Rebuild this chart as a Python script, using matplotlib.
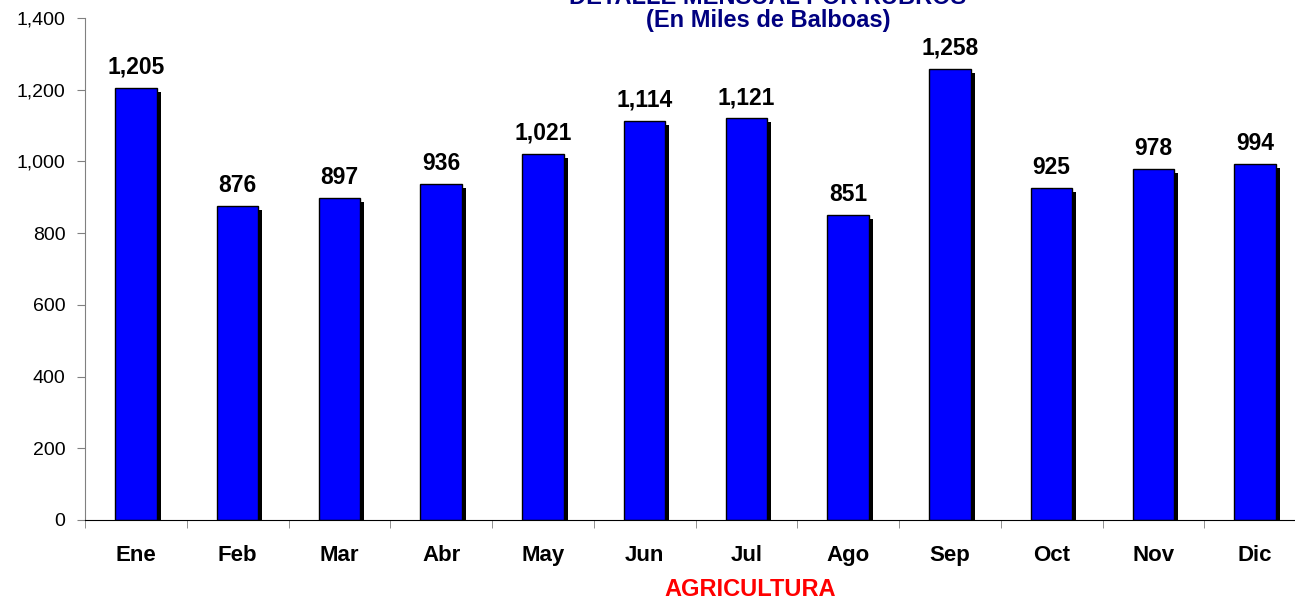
import matplotlib
matplotlib.use("Agg")
import matplotlib.pyplot as plt
import matplotlib.transforms as mtransforms
from matplotlib.ticker import FuncFormatter, FixedLocator

plt.rcParams['font.family'] = ['Liberation Sans', 'DejaVu Sans']

months = ["Ene", "Feb", "Mar", "Abr", "May", "Jun", "Jul", "Ago", "Sep", "Oct", "Nov", "Dic"]
values = [1205, 876, 897, 936, 1021, 1114, 1121, 851, 1258, 925, 978, 994]
title_lines = ["DETALLE MENSUAL POR RUBROS", "(En Miles de Balboas)"]
xlabel = "AGRICULTURA"

fig = plt.figure(figsize=(12.95, 6.03), dpi=100)
ax = fig.add_axes([85/1295, 83/603, (1306-85)/1295, (520-18)/603])

x = list(range(len(months)))
w = 0.41
shadow_tr = mtransforms.offset_copy(ax.transData, fig=fig, x=4, y=-4, units='dots')
ax.bar(x, values, width=w, color='black', transform=shadow_tr, zorder=1, clip_on=True)
ax.bar(x, values, width=w, color='#0000FF', edgecolor='black', linewidth=1.0, zorder=2)

for xi, v in zip(x, values):
    ax.text(xi, v + 25, f"{v:,}", ha='center', va='bottom', fontsize=16.5, fontweight='bold')

ax.set_xlim(-0.5, len(months) - 0.5)
ax.set_ylim(0, 1400)
ax.set_yticks(range(0, 1401, 200))
ax.yaxis.set_major_formatter(FuncFormatter(lambda v, p: f"{int(v):,}"))
ax.tick_params(axis='y', labelsize=14, length=6, color='gray', direction='out', pad=8)

ax.set_xticks(x)
ax.set_xticklabels(months, fontsize=16, fontweight='bold')
ax.tick_params(axis='x', length=0, pad=18)
ax.xaxis.set_minor_locator(FixedLocator([i - 0.5 for i in range(len(months) + 1)]))
ax.tick_params(axis='x', which='minor', length=6, color='gray', direction='out')

for s in ['top', 'right']:
    ax.spines[s].set_visible(False)
ax.spines['left'].set_color('gray')
ax.spines['bottom'].set_color('black')

fig.text(768/1295, 1 - (-3)/603, title_lines[0], ha='center', va='center', fontsize=17, fontweight='bold', color='#000080')
fig.text(768/1295, 1 - 21/603, title_lines[1], ha='center', va='center', fontsize=17, fontweight='bold', color='#000080')
fig.text(750/1295, 1 - 590/603, xlabel, ha='center', va='center', fontsize=17, fontweight='bold', color='red')

fig.savefig("out.png", dpi=100)
